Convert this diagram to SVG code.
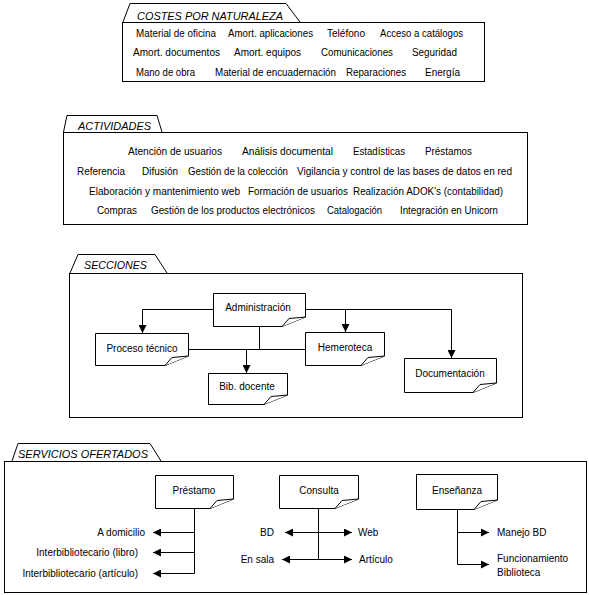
<svg xmlns="http://www.w3.org/2000/svg" width="589" height="595" viewBox="0 0 589 595">
<defs>
<style>
.frame{fill:#fff;stroke:#000;stroke-width:1}
.tab{fill:#fff;stroke:#000;stroke-width:1}
.note{fill:#fff;stroke:#000;stroke-width:1}
.flap{fill:#fff;stroke:#000;stroke-width:1}
.t{font-family:"Liberation Sans",Arial,sans-serif;font-size:10px;fill:#000}
.title{font-family:"Liberation Sans",Arial,sans-serif;font-size:11px;font-style:italic;fill:#000}
.c{text-anchor:middle}
.e{text-anchor:end}
.con{fill:none;stroke:#000;stroke-width:1}
</style>
<marker id="arr" viewBox="0 0 8 8" refX="8" refY="4" markerWidth="8" markerHeight="8" markerUnits="userSpaceOnUse" orient="auto">
<path d="M0,0 L8,4 L0,8 Z" fill="#000"/>
</marker>
</defs>
<rect x="0" y="0" width="589" height="595" fill="#fff"/>

<g id="costes">
<path class="tab" d="M123,22 L130,3.5 L286,3.5 L300,22"/>
<rect class="frame" x="122.5" y="22.5" width="362" height="59"/>
<text class="title" x="137" y="20" textLength="146" lengthAdjust="spacingAndGlyphs">COSTES POR NATURALEZA</text>
<text class="t" x="136" y="37" textLength="80" lengthAdjust="spacingAndGlyphs">Material de oficina</text>
<text class="t" x="228" y="37" textLength="85" lengthAdjust="spacingAndGlyphs">Amort. aplicaciones</text>
<text class="t" x="327" y="37" textLength="38" lengthAdjust="spacingAndGlyphs">Teléfono</text>
<text class="t" x="380" y="37" textLength="83" lengthAdjust="spacingAndGlyphs">Acceso a catálogos</text>
<text class="t" x="133" y="56" textLength="87" lengthAdjust="spacingAndGlyphs">Amort. documentos</text>
<text class="t" x="234" y="56" textLength="67" lengthAdjust="spacingAndGlyphs">Amort. equipos</text>
<text class="t" x="321" y="56" textLength="72" lengthAdjust="spacingAndGlyphs">Comunicaciones</text>
<text class="t" x="412" y="56" textLength="45" lengthAdjust="spacingAndGlyphs">Seguridad</text>
<text class="t" x="136" y="76" textLength="59" lengthAdjust="spacingAndGlyphs">Mano de obra</text>
<text class="t" x="215" y="76" textLength="121" lengthAdjust="spacingAndGlyphs">Material de encuadernación</text>
<text class="t" x="346" y="76" textLength="60" lengthAdjust="spacingAndGlyphs">Reparaciones</text>
<text class="t" x="425" y="76" textLength="35" lengthAdjust="spacingAndGlyphs">Energía</text>
</g>

<g id="actividades">
<path class="tab" d="M63.5,132 L67,115.5 L157,115.5 L162,132"/>
<rect class="frame" x="63.5" y="132.5" width="464" height="92"/>
<text class="title" x="78" y="130" textLength="73" lengthAdjust="spacingAndGlyphs">ACTIVIDADES</text>
<text class="t" x="128" y="155" textLength="94" lengthAdjust="spacingAndGlyphs">Atención de usuarios</text>
<text class="t" x="242" y="155" textLength="91" lengthAdjust="spacingAndGlyphs">Análisis documental</text>
<text class="t" x="353" y="155" textLength="52" lengthAdjust="spacingAndGlyphs">Estadísticas</text>
<text class="t" x="425" y="155" textLength="47" lengthAdjust="spacingAndGlyphs">Préstamos</text>
<text class="t" x="77" y="175" textLength="48" lengthAdjust="spacingAndGlyphs">Referencia</text>
<text class="t" x="142" y="175" textLength="36" lengthAdjust="spacingAndGlyphs">Difusión</text>
<text class="t" x="188" y="175" textLength="100" lengthAdjust="spacingAndGlyphs">Gestión de la colección</text>
<text class="t" x="297" y="175" textLength="215" lengthAdjust="spacingAndGlyphs">Vigilancia y control de las bases de datos en red</text>
<text class="t" x="89" y="195" textLength="151" lengthAdjust="spacingAndGlyphs">Elaboración y mantenimiento web</text>
<text class="t" x="248" y="195" textLength="100" lengthAdjust="spacingAndGlyphs">Formación de usuarios</text>
<text class="t" x="353" y="195" textLength="150" lengthAdjust="spacingAndGlyphs">Realización ADOK's (contabilidad)</text>
<text class="t" x="97" y="214" textLength="40" lengthAdjust="spacingAndGlyphs">Compras</text>
<text class="t" x="151" y="214" textLength="164" lengthAdjust="spacingAndGlyphs">Gestión de los productos electrónicos</text>
<text class="t" x="327" y="214" textLength="55" lengthAdjust="spacingAndGlyphs">Catalogación</text>
<text class="t" x="400" y="214" textLength="98" lengthAdjust="spacingAndGlyphs">Integración en Unicorn</text>
</g>

<g id="secciones">
<path class="tab" d="M70,273 L78,254.5 L155,254.5 L167,273"/>
<rect class="frame" x="69.5" y="273.5" width="453" height="144"/>
<text class="title" x="84" y="269" textLength="63" lengthAdjust="spacingAndGlyphs">SECCIONES</text>
</g>

<g id="servicios">
<path class="tab" d="M12,461 L18,443.5 L150,443.5 L161,461"/>
<rect class="frame" x="4.5" y="461.5" width="582" height="131"/>
<text class="title" x="18" y="458" textLength="130" lengthAdjust="spacingAndGlyphs">SERVICIOS OFERTADOS</text>
<text class="t e" x="145" y="536">A domicilio</text>
<text class="t e" x="138" y="556">Interbibliotecario (libro)</text>
<text class="t e" x="138" y="577">Interbibliotecario (artículo)</text>
<text class="t e" x="274" y="536">BD</text>
<text class="t" x="358" y="536">Web</text>
<text class="t e" x="274" y="563">En sala</text>
<text class="t" x="359" y="563">Artículo</text>
<text class="t" x="497" y="536">Manejo BD</text>
<text class="t" x="497" y="562">Funcionamiento</text>
<text class="t" x="497" y="576">Biblioteca</text>
</g>

<g id="connectors">
<path class="con" d="M213,309.5 H142.5 V333" marker-end="url(#arr)"/>
<path class="con" d="M305,309.5 H451.5 V358" marker-end="url(#arr)"/>
<path class="con" d="M345.5,309.5 V332" marker-end="url(#arr)"/>
<path class="con" d="M259.5,326 V349.5"/>
<path class="con" d="M188,349.5 H305"/>
<path class="con" d="M246.5,349.5 V373" marker-end="url(#arr)"/>
<path class="con" d="M194.5,508 V573.5"/>
<path class="con" d="M194.5,532.5 H153" marker-end="url(#arr)"/>
<path class="con" d="M194.5,552.5 H153" marker-end="url(#arr)"/>
<path class="con" d="M194.5,573.5 H153" marker-end="url(#arr)"/>
<path class="con" d="M318.5,508 V559.5"/>
<path class="con" d="M318.5,532.5 H285" marker-end="url(#arr)"/>
<path class="con" d="M318.5,532.5 H352" marker-end="url(#arr)"/>
<path class="con" d="M318.5,559.5 H282" marker-end="url(#arr)"/>
<path class="con" d="M318.5,559.5 H352" marker-end="url(#arr)"/>
<path class="con" d="M457.5,509 V564.5 H489" marker-end="url(#arr)"/>
<path class="con" d="M457.5,532.5 H489" marker-end="url(#arr)"/>
</g>

<g id="administracion">
<path class="note" d="M213.5,293.5 H305.5 V317 L282,326.5 H213.5 Z"/>
<path class="flap" d="M282,326.5 L289,318.5 L305.5,317"/>
<text class="t c" x="258" y="311">Administración</text>
</g>
<g id="proceso-tecnico">
<path class="note" d="M95.5,333.5 H188.5 V356 L165,365.5 H95.5 Z"/>
<path class="flap" d="M165,365.5 L172,357.5 L188.5,356"/>
<text class="t c" x="142" y="352">Proceso técnico</text>
</g>
<g id="bib-docente">
<path class="note" d="M208.5,373.5 H287.5 V395 L264,404.5 H208.5 Z"/>
<path class="flap" d="M264,404.5 L271,396.5 L287.5,395"/>
<text class="t c" x="247" y="390">Bib. docente</text>
</g>
<g id="hemeroteca">
<path class="note" d="M305.5,332.5 H384.5 V356 L361,365.5 H305.5 Z"/>
<path class="flap" d="M361,365.5 L368,357.5 L384.5,356"/>
<text class="t c" x="345" y="351">Hemeroteca</text>
</g>
<g id="documentacion">
<path class="note" d="M404.5,358.5 H496.5 V383 L473,392.5 H404.5 Z"/>
<path class="flap" d="M473,392.5 L480,384.5 L496.5,383"/>
<text class="t c" x="450" y="377">Documentación</text>
</g>
<g id="prestamo">
<path class="note" d="M155.5,475.5 H233.5 V499 L210,508.5 H155.5 Z"/>
<path class="flap" d="M210,508.5 L217,500.5 L233.5,499"/>
<text class="t c" x="194" y="494">Préstamo</text>
</g>
<g id="consulta">
<path class="note" d="M279.5,475.5 H358.5 V499 L335,508.5 H279.5 Z"/>
<path class="flap" d="M335,508.5 L342,500.5 L358.5,499"/>
<text class="t c" x="319" y="494">Consulta</text>
</g>
<g id="ensenanza">
<path class="note" d="M416.5,474.5 H497.5 V500 L474,509.5 H416.5 Z"/>
<path class="flap" d="M474,509.5 L481,501.5 L497.5,500"/>
<text class="t c" x="457" y="494">Enseñanza</text>
</g>
</svg>
